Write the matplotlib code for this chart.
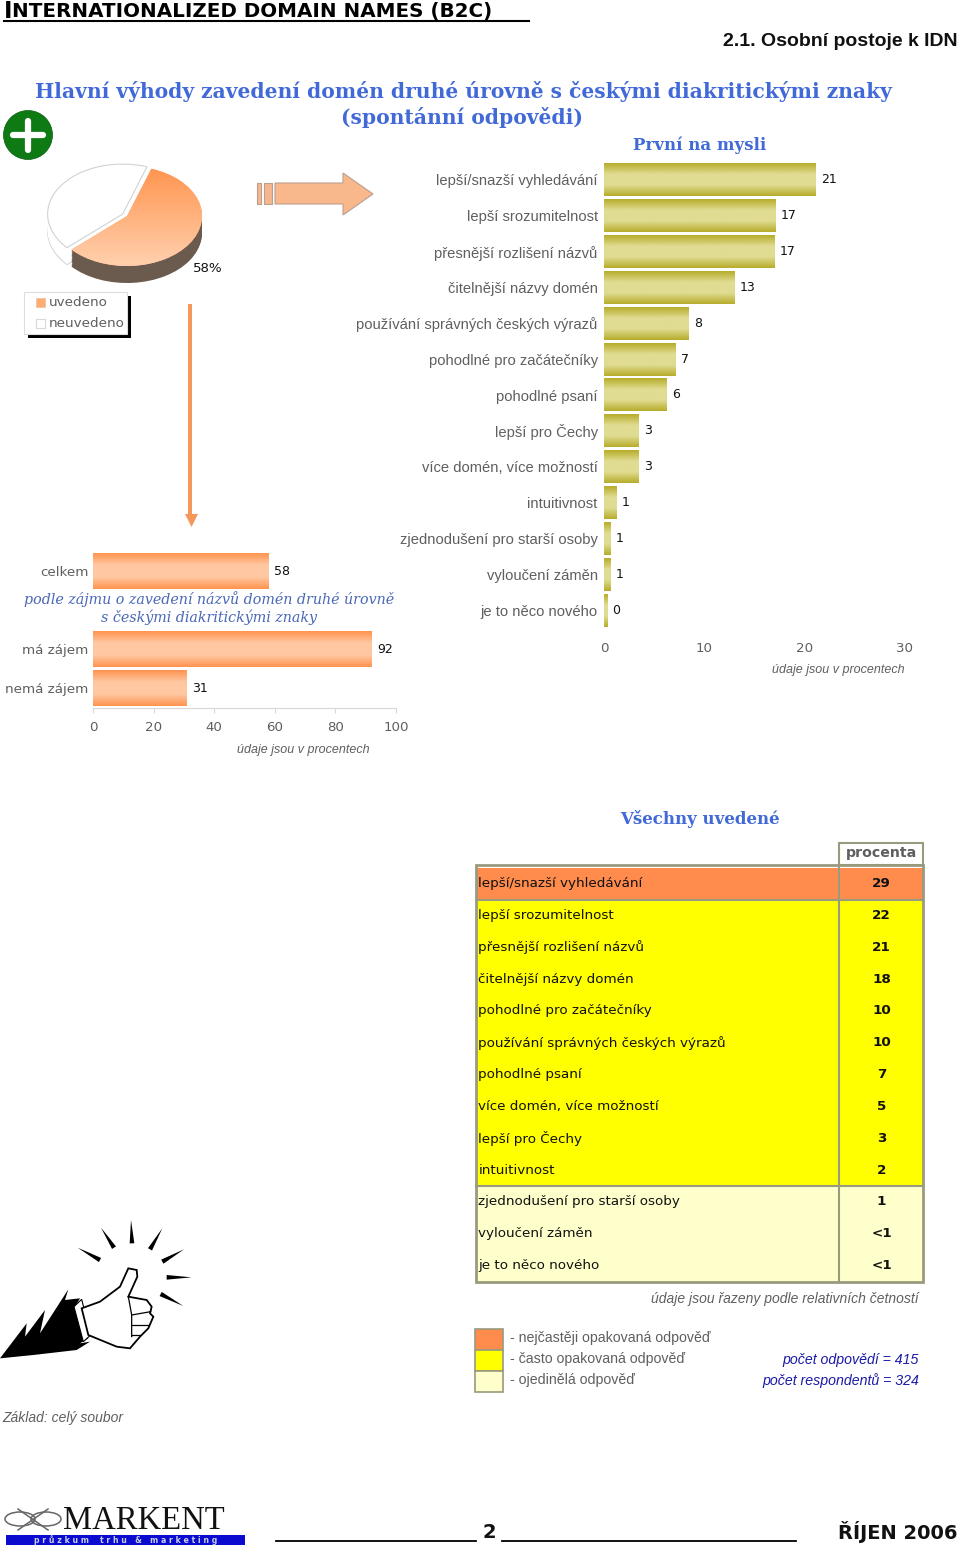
import numpy as np
import matplotlib
matplotlib.use("Agg")
import matplotlib.pyplot as plt
from matplotlib.colors import LinearSegmentedColormap
from matplotlib.patches import Rectangle, Polygon, Circle, Ellipse, FancyBboxPatch, Arc

# ---------- data ----------
first_cats = ["lepší/snazší vyhledávání", "lepší srozumitelnost", "přesnější rozlišení názvů",
              "čitelnější názvy domén", "používání správných českých výrazů", "pohodlné pro začátečníky",
              "pohodlné psaní", "lepší pro Čechy", "více domén, více možností", "intuitivnost",
              "zjednodušení pro starší osoby", "vyloučení záměn", "je to něco nového"]
first_vals = [21.1, 17.1, 17.0, 13.0, 8.4, 7.1, 6.2, 3.4, 3.4, 1.2, 0.6, 0.6, 0.3]
first_labels = ["21", "17", "17", "13", "8", "7", "6", "3", "3", "1", "1", "1", "0"]
first_ticks = [0, 10, 20, 30]

pie_labels = ["uvedeno", "neuvedeno"]
pie_vals = [58, 42]

second_cats = ["celkem", "má zájem", "nemá zájem"]
second_rows = [0, 2, 3]
second_vals = [58, 92, 31]
second_ticks = [0, 20, 40, 60, 80, 100]

table_cats = ["lepší/snazší vyhledávání", "lepší srozumitelnost", "přesnější rozlišení názvů",
              "čitelnější názvy domén", "pohodlné pro začátečníky", "používání správných českých výrazů",
              "pohodlné psaní", "více domén, více možností", "lepší pro Čechy", "intuitivnost",
              "zjednodušení pro starší osoby", "vyloučení záměn", "je to něco nového"]
table_vals = ["29", "22", "21", "18", "10", "10", "7", "5", "3", "2", "1", "<1", "<1"]
table_class = [0, 1, 1, 1, 1, 1, 1, 1, 1, 1, 2, 2, 2]
class_labels = ["- nejčastěji opakovaná odpověď", "- často opakovaná odpověď", "- ojedinělá odpověď"]

# ---------- styles ----------
W, H = 960, 1552
GREY = "#5f5f5f"
BLUE = "#4169d8"
NARROW = ["Liberation Sans Narrow", "Liberation Sans"]
class_colors = ["#ff8c4d", "#ffff00", "#ffffcc"]
TBORDER = "#9a9a7e"
orange_cm = LinearSegmentedColormap.from_list("o", ["#ff9450", "#ffc8a2", "#ffc8a2", "#ff9450"])
olive_cm = LinearSegmentedColormap.from_list("g", ["#b7ad2c", "#e0dc92", "#e0dc92", "#b7ad2c"])
pie_cm = LinearSegmentedColormap.from_list("p", ["#ff944e", "#ffd0ae"])
grad = np.linspace(0, 1, 64).reshape(-1, 1)

fig = plt.figure(figsize=(W / 100, H / 100), dpi=100, facecolor="white")


def axpx(l, t, r, b, **kw):
    return fig.add_axes([l / W, 1 - b / H, (r - l) / W, (b - t) / H], **kw)


# overlay in pixel coordinates
ov = axpx(0, 0, W, H)
ov.set_xlim(0, W)
ov.set_ylim(H, 0)
ov.axis("off")


def T(x, y, s, **kw):
    kw.setdefault("va", "center")
    kw.setdefault("ha", "left")
    return ov.text(x, y, s, **kw)


# ---------- headings ----------
T(4, 11, "I", fontsize=16.5, fontweight="bold", color="black", family="DejaVu Sans")
T(12, 11.5, "NTERNATIONALIZED DOMAIN NAMES (B2C)", fontsize=14.3, fontweight="bold", color="black",
  family="DejaVu Sans")
ov.plot([4, 529], [21, 21], color="black", lw=1.5)
T(958, 41, "2.1. Osobní postoje k IDN", ha="right", fontsize=14, fontweight="bold", family="Liberation Sans",
  color="#111111")
T(463, 92, "Hlavní výhody zavedení domén druhé úrovně s českými diakritickými znaky", ha="center",
  fontsize=14.6, fontweight="bold", family="DejaVu Serif", color=BLUE)
T(462, 118, "(spontánní odpovědi)", ha="center", fontsize=14.6, fontweight="bold", family="DejaVu Serif", color=BLUE)
T(700, 145, "První na mysli", ha="center", fontsize=12, fontweight="bold", family="DejaVu Serif", color=BLUE)
T(700, 819, "Všechny uvedené", ha="center", fontsize=12, fontweight="bold", family="DejaVu Serif", color=BLUE)

# green plus
ov.add_patch(Circle((28, 135), 24.5, fc="#0d7a14", ec="#0a5f10", lw=0.5))
ov.plot([13, 43], [135, 135], color="white", lw=4.5, solid_capstyle="round")
ov.plot([28, 28], [121, 150], color="white", lw=4.5, solid_capstyle="round")

# ---------- pie ----------
pa, pb = 75.0, 50.0
pcx, pcy = 127.0, 216.0
pax = axpx(pcx - 1.4 * pa, pcy - 1.4 * pb, pcx + 1.4 * pa, pcy + 1.7 * pb)
pax.patch.set_alpha(0)
start = 71
for d in np.linspace(0.34, 0.02, 14):
    w, _ = pax.pie(pie_vals, startangle=start, counterclock=False, center=(0, -d), explode=[0, 0.07],
                   colors=["#6b5a4e", "white"], wedgeprops=dict(edgecolor="none"))
    if d == 0.34:
        w[1].set_edgecolor("#d4d6d6")
        w[1].set_linewidth(0.8)
w, _ = pax.pie(pie_vals, startangle=start, counterclock=False, explode=[0, 0.07],
               colors=["#ffb27e", "white"], wedgeprops=dict(edgecolor="none"))
w[1].set_edgecolor("#cfd3d3")
w[1].set_linewidth(0.8)
im = pax.imshow(grad, extent=(-1, 1, -1, 1), aspect="auto", cmap=pie_cm, zorder=3)
im.set_clip_path(w[0])
pax.set_aspect("auto")
pax.set_xlim(-1.4, 1.4)
pax.set_ylim(-1.7, 1.4)
T(193, 268, "58%", fontsize=9.6, color="#111111", family="DejaVu Sans")

# pie legend
ov.add_patch(Rectangle((28, 296), 103, 42, fc="black", ec="none"))
ov.add_patch(Rectangle((24, 292), 103, 42, fc="white", ec="#dddddd", lw=0.8))
ov.add_patch(Rectangle((36, 298), 9, 9, fc="#ffac72", ec="#e9c0a0", lw=0.5))
ov.add_patch(Rectangle((36, 319), 9, 9, fc="white", ec="#d8d8d8", lw=0.8))
T(48.5, 302.5, pie_labels[0], fontsize=9.7, color=GREY, family="DejaVu Sans")
T(48.5, 323.5, pie_labels[1], fontsize=9.7, color=GREY, family="DejaVu Sans")

# arrows
for x0, x1 in [(257, 261), (264, 272)]:
    ov.add_patch(Rectangle((x0, 183), x1 - x0, 21, fc="#f6b68e", ec="#b9a08e", lw=0.8))
ov.add_patch(Polygon([(275, 183), (343, 183), (343, 173), (373, 194), (343, 215), (343, 204), (275, 204)],
                     fc="#f9b78c", ec="#b9a08e", lw=0.8))
ov.add_patch(Rectangle((187.5, 304), 4.5, 211, fc="#f4975a", ec="none"))
ov.add_patch(Polygon([(185, 514), (198, 514), (191.5, 527)], fc="#f4975a", ec="none"))

# ---------- first chart ----------
ax1 = axpx(604, 162, 905, 628)
ax1.patch.set_alpha(0)
rows1 = np.arange(len(first_vals))
bars1 = ax1.barh(rows1, first_vals, height=0.92, color="#d4cf6a")
for r, lab in zip(bars1, first_labels):
    ax1.imshow(grad, extent=(r.get_x(), r.get_x() + r.get_width(), r.get_y() + r.get_height(), r.get_y()),
               aspect="auto", cmap=olive_cm, zorder=2)
    ax1.annotate(lab, (r.get_width(), r.get_y() + r.get_height() / 2), xytext=(4, 0), textcoords="offset points",
                 va="center", ha="left", fontsize=9, color="#111111", family="DejaVu Sans")
ax1.set_xlim(0, 30)
ax1.set_ylim(len(first_vals) - 0.5, -0.5)
ax1.set_yticks(rows1, first_cats, fontsize=10.6, color=GREY, family=NARROW)
ax1.set_xticks(first_ticks, [str(v) for v in first_ticks], fontsize=9.6, color=GREY, family="DejaVu Sans")
ax1.tick_params(axis="y", length=0, pad=4.5)
ax1.tick_params(axis="x", length=0, pad=10)
for s in ax1.spines.values():
    s.set_visible(False)
T(905, 670, "údaje jsou v procentech", ha="right", fontsize=9, style="italic", color=GREY, family="Liberation Sans")

# ---------- second chart ----------
ax2 = axpx(93, 551.5, 396, 707.5)
ax2.patch.set_alpha(0)
bars2 = ax2.barh(second_rows, second_vals, height=0.92, color="#ffb080")
for r, lab in zip(bars2, second_vals):
    ax2.imshow(grad, extent=(r.get_x(), r.get_x() + r.get_width(), r.get_y() + r.get_height(), r.get_y()),
               aspect="auto", cmap=orange_cm, zorder=2)
    ax2.annotate(str(lab), (r.get_width(), r.get_y() + r.get_height() / 2), xytext=(4, 0),
                 textcoords="offset points", va="center", ha="left", fontsize=9, color="#111111",
                 family="DejaVu Sans", annotation_clip=False)
ax2.set_xlim(0, 100)
ax2.set_ylim(3.5, -0.5)
ax2.set_yticks(second_rows, second_cats, fontsize=9.7, color=GREY, family="DejaVu Sans")
ax2.set_xticks(second_ticks, [str(v) for v in second_ticks], fontsize=9.6, color=GREY, family="DejaVu Sans")
ax2.tick_params(axis="y", length=0, pad=3.5)
ax2.tick_params(axis="x", length=3.5, width=0.8, color="#d8d8d8", pad=6.5)
for k, s in ax2.spines.items():
    s.set_visible(k == "bottom")
ax2.spines["bottom"].set_color("#d8d8d8")
T(209, 599, "podle zájmu o zavedení názvů domén druhé úrovně", ha="center", fontsize=10.3, style="italic",
  family="DejaVu Serif", color="#4a68b8")
T(209, 617, "s českými diakritickými znaky", ha="center", fontsize=10.3, style="italic",
  family="DejaVu Serif", color="#4a68b8")
T(370, 750, "údaje jsou v procentech", ha="right", fontsize=9, style="italic", color=GREY, family="Liberation Sans")

# ---------- table ----------
RH = 31.83
TOP = 868
ov.add_patch(Rectangle((839, 843), 84, 22, fc="white", ec=TBORDER, lw=1.5))
T(881.5, 853.5, "procenta", ha="center", fontsize=10.2, fontweight="bold", color=GREY, family="DejaVu Sans")
for i, (c, v, k) in enumerate(zip(table_cats, table_vals, table_class)):
    y = TOP + i * RH
    col = class_colors[k]
    ov.add_patch(Rectangle((476, y), 363, RH, fc=col, ec="none"))
    ov.add_patch(Rectangle((839, y), 84, RH, fc=col, ec="none"))
    T(478.5, y + RH / 2 - 0.3, c, fontsize=9.7, color="#111111", family="DejaVu Sans")
    T(881.5, y + RH / 2 - 0.3, v, ha="center", fontsize=9.7, fontweight="bold", color="#111111",
      family="DejaVu Sans")
BOT = TOP + len(table_vals) * RH
ov.add_patch(Rectangle((476, TOP - 3), 447, BOT - TOP + 3, fc="none", ec=TBORDER, lw=2))
ov.plot([839, 839], [TOP - 3, BOT], color=TBORDER, lw=1.5)
ov.plot([476, 923], [TOP + RH, TOP + RH], color=TBORDER, lw=1.5)
ov.plot([476, 923], [TOP + 10 * RH, TOP + 10 * RH], color=TBORDER, lw=1.5)

T(919, 1299, "údaje jsou řazeny podle relativních četností", ha="right", fontsize=10, style="italic",
  color=GREY, family="Liberation Sans")
for i, (col, lab) in enumerate(zip(class_colors, class_labels)):
    y = 1329 + i * 21
    ov.add_patch(Rectangle((475, y), 28, 21, fc=col, ec=TBORDER, lw=1.2))
    T(510, y + 9, lab, fontsize=10.2, color=GREY, family="Liberation Sans")
T(919, 1360, "počet odpovědí = 415", ha="right", fontsize=10.2, style="italic", color="#1a1aa8", family="Liberation Sans")
T(919, 1381, "počet respondentů = 324", ha="right", fontsize=10.2, style="italic", color="#1a1aa8", family="Liberation Sans")
T(2, 1418, "Základ: celý soubor", fontsize=10, style="italic", color=GREY, family="Liberation Sans")

# ---------- thumbs-up clip art ----------
def Z(pts):
    return [(x / 3, 1200 + y / 3) for x, y in pts]


for (x0, y0), (x1, y1) in [((393, 60), (396, 130)), ((303, 83), (342, 143)), ((487, 85), (450, 148)),
                           ((233, 143), (300, 180)), ((552, 148), (487, 185)), ((575, 232), (500, 232)),
                           ((550, 318), (482, 282))]:
    dx, dy = x1 - x0, y1 - y0
    n = np.hypot(dx, dy)
    nx, ny = -dy / n * 7, dx / n * 7
    ov.add_patch(Polygon(Z([(x0, y0), (x1 + nx, y1 + ny), (x1 - nx, y1 - ny)]), fc="black", ec="none"))
ov.add_patch(Polygon(Z([(0, 475), (80, 370), (75, 410), (135, 330), (120, 400), (205, 268), (195, 300),
                        (240, 295), (225, 320), (265, 415), (240, 430), (270, 425), (230, 450), (100, 465)]),
                     fc="black", ec="none"))
ov.add_patch(Polygon(Z([(222, 320), (245, 298), (272, 405), (250, 425)]), fc="white", ec="black", lw=0.8))
ov.add_patch(Polygon(Z([(245, 325), (300, 305), (360, 260), (385, 205), (410, 210), (412, 230), (385, 290),
                        (440, 300), (455, 320), (450, 340), (460, 350), (445, 385), (420, 410), (390, 445),
                        (350, 440), (265, 405)]), fc="white", ec="black", lw=1.3))
for seg in [[(395, 345), (452, 335)], [(395, 375), (445, 375)], [(395, 405), (420, 405)], [(385, 290), (395, 345), (395, 410)]]:
    p = Z(seg)
    ov.plot([a for a, b in p], [b for a, b in p], color="black", lw=0.9)

# ---------- footer ----------
for cx in (20, 46):
    ov.add_patch(Ellipse((cx, 1519), 30, 14, fc="none", ec="#666666", lw=1.1))
ov.plot([18, 48], [1509, 1530], color="#666666", lw=1.1)
ov.plot([18, 48], [1530, 1509], color="#666666", lw=1.1)
T(63, 1520.5, "MARKENT", fontsize=23.5, family="Liberation Serif", color="#111111")
ov.add_patch(Rectangle((6, 1535), 239, 10, fc="#0b0bd0", ec="none"))
T(125.5, 1540, "p r ů z k u m    t r h u   &   m a r k e t i n g", ha="center", fontsize=5.6, fontweight="bold",
  color="#c8d0e8", family="DejaVu Sans")
ov.plot([276, 476], [1541, 1541], color="black", lw=1.3)
ov.plot([502, 796], [1541, 1541], color="black", lw=1.3)
T(489, 1532, "2", ha="center", fontsize=14, fontweight="bold", color="#111111", family="DejaVu Sans")
T(957, 1532, "ŘÍJEN 2006", ha="right", fontsize=14, fontweight="bold", color="#111111", family="DejaVu Sans")

fig.savefig("out.png", dpi=100, facecolor="white")
